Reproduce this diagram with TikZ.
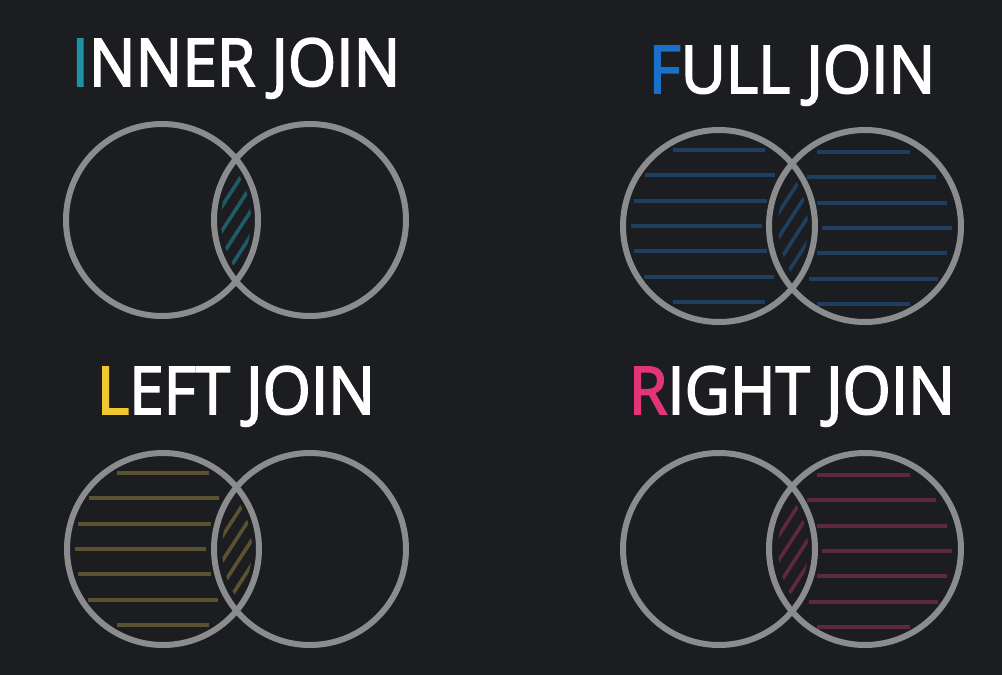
\documentclass[tikz,border=0pt]{standalone}
\usepackage{fontspec}
\newfontfamily\titlefont{Open Sans}[RawFeature={embolden=2.6},FakeStretch=0.94]
\definecolor{bg}{HTML}{1C1D21}
\definecolor{ring}{HTML}{8A8C8E}
\definecolor{cteal}{HTML}{1E93A6}
\definecolor{cblue}{HTML}{1A6FC9}
\definecolor{cyel}{HTML}{F2C832}
\definecolor{cpink}{HTML}{E23477}
\definecolor{hteal}{HTML}{1F5C66}
\definecolor{hblue}{HTML}{1E3F60}
\definecolor{hyel}{HTML}{5B5231}
\definecolor{hpink}{HTML}{5E2742}
\tikzset{
  ringline/.style={draw=ring,line width=6pt},
  hatchline/.style={line width=3.2pt},
  lensline/.style={line width=3.6pt},
  titletext/.style={text=white,inner sep=0pt,anchor=base,font=\titlefont\fontsize{66}{70}\selectfont}
}
% #1 left centre x, #2 centre y, #3 colour
\newcommand{\lenshatch}[3]{%
  \begin{scope}
    \clip (#1,#2) circle (89pt);
    \clip (#1+148,#2) circle (89pt);
    \foreach \k in {-3,...,3}{
      \draw[lensline,#3] (#1+74+16*\k+9-54.5,#2+83.9) -- (#1+74+16*\k+9+54.5,#2-83.9);
    }
  \end{scope}}
% horizontal lines: left circle
\newcommand{\lefthatch}[3]{%
  \foreach \dy/\xl/\xr in {-76/-46/46,-51/-74/56,-25/-85/48,0/-88/43,25/-85/48,51/-75/55,76/-46/46}{
    \draw[hatchline,#3] (#1+\xl,#2+\dy) -- (#1+\xr,#2+\dy);
  }}
\newcommand{\righthatch}[3]{%
  \foreach \dy/\xl/\xr in {-74/-48/45,-49/-58/71,-23/-48/82,2/-43/87,27/-48/82,53/-56/73,78/-48/45}{
    \draw[hatchline,#3] (#1+\xl,#2+\dy) -- (#1+\xr,#2+\dy);
  }}
\begin{document}
\begin{tikzpicture}[x=1pt,y=-1pt]
\fill[bg] (0,0) rectangle (1002,675);
\useasboundingbox (0,0) rectangle (1002,675);

% titles
\node[titletext] (tinner) at (236,86) {\textcolor{cteal}{I}NNER JOIN};
\node[titletext] (tfull) at (792,93) {\textcolor{cblue}{F}ULL JOIN};
\node[titletext] (tleft) at (236,414) {\textcolor{cyel}{L}EFT JOIN};
\node[titletext] (tright) at (792,414) {\textcolor{cpink}{R}IGHT JOIN};

% INNER JOIN
\lenshatch{162}{220}{hteal}
\draw[ringline] (162,220) circle (96pt);
\draw[ringline] (310,220) circle (96pt);

% FULL JOIN
\lefthatch{719}{226}{hblue}
\righthatch{865}{226}{hblue}
\lenshatch{719}{226}{hblue}
\draw[ringline] (719,226) circle (96pt);
\draw[ringline] (865,226) circle (96pt);

% LEFT JOIN
\lefthatch{163}{549}{hyel}
\lenshatch{163}{549}{hyel}
\draw[ringline] (163,549) circle (96pt);
\draw[ringline] (310,549) circle (96pt);

% RIGHT JOIN
\righthatch{865}{549}{hpink}
\lenshatch{719}{549}{hpink}
\draw[ringline] (719,549) circle (96pt);
\draw[ringline] (865,549) circle (96pt);
\end{tikzpicture}
\end{document}
